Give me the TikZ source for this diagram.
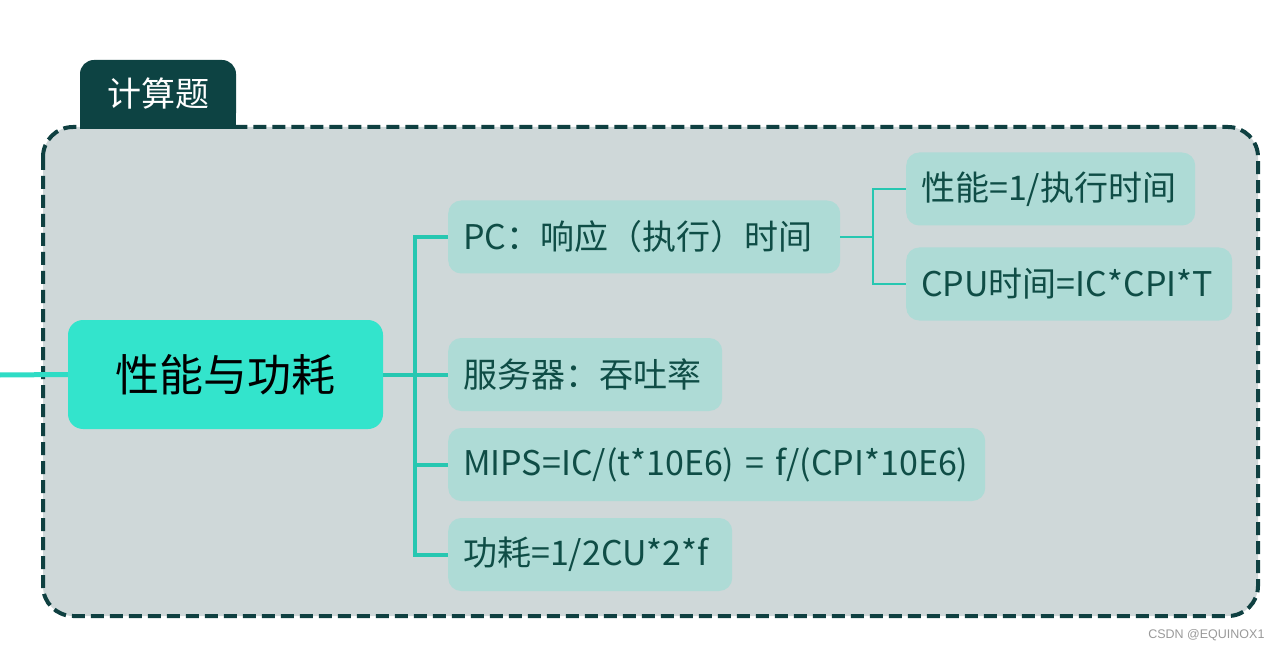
\documentclass[tikz,border=0pt]{standalone}
\usepackage{fontspec}
\setmainfont{Noto Sans CJK SC}
\newfontfamily\wmfont{Liberation Sans}
\usetikzlibrary{positioning}
\definecolor{borderc}{HTML}{0F4041}
\definecolor{boxfill}{HTML}{CFD8D9}
\definecolor{tabc}{HTML}{0D4343}
\definecolor{mainc}{HTML}{33E4CC}
\definecolor{childc}{HTML}{AEDBD6}
\definecolor{childtext}{HTML}{0F4D46}
\definecolor{linkc}{HTML}{27C7B1}
\definecolor{leftc}{HTML}{2EDCC5}
\tikzset{
  mainbox/.style={fill=mainc, rounded corners=15pt, minimum width=315pt, minimum height=109pt,
    font=\fontsize{44}{52}\selectfont, text=black, inner sep=0pt},
  childbox/.style={fill=childc, rounded corners=13pt, minimum height=73pt, inner xsep=15pt, inner ysep=0pt,
    font=\fontsize{34}{40}\selectfont, text=childtext, anchor=west, align=left},
  tabbox/.style={fill=tabc, rounded corners=14pt, minimum width=156pt, minimum height=67pt,
    font=\fontsize{34}{40}\selectfont, text=white, inner sep=0pt},
  link/.style={draw=linkc, line width=4pt},
  sublink/.style={draw=linkc, line width=2.5pt},
}
\begin{document}
\begin{tikzpicture}[x=1pt,y=-1pt]
\useasboundingbox (0,0) rectangle (1282,652);
% outer container
\draw[draw=borderc, fill=boxfill, line width=4pt, dash pattern=on 13pt off 6pt, rounded corners=30pt]
  (43,127) rectangle (1258,616);
% tab
\fill[tabc] (80,95) rectangle (236,129);
\node[tabbox] (tab) at (158,93.5) {计算题};
% left incoming line
\coordinate (inlet) at (0,375);
% main node
\node[mainbox] (main) at (225.5,374.5) {性能与功耗};
\draw[draw=leftc, line width=5pt] (inlet) -- (main.west);
% children
\node[childbox, text width=362pt] (pc) at (448,237) {PC：响应（执行）时间};
\node[childbox, text width=244pt] (srv) at (448,374.5) {服务器：吞吐率};
\node[childbox, text width=507pt] (mips) at (448,464.5) {MIPS=IC/(t*10E6) = f/(CPI*10E6)};
\node[childbox, text width=254pt] (pw) at (448,554.5) {功耗=1/2CU*2*f};
\node[childbox, text width=259pt] (perf) at (906,189) {性能=1/执行时间};
\node[childbox, text width=296pt] (cpu) at (906,284) {CPU时间=IC*CPI*T};
% connectors
\coordinate (trunk) at (415,374.5);
\draw[link] (main.east) -- (trunk);
\draw[link] (trunk) |- (pc.west);
\draw[link] (trunk) -- (srv.west);
\draw[link] (trunk) |- (mips.west);
\draw[link] (trunk) |- (pw.west);
\coordinate (subtrunk) at (873,237);
\draw[sublink] (pc.east) -- (subtrunk);
\draw[sublink] (subtrunk) |- (perf.west);
\draw[sublink] (subtrunk) |- (cpu.west);
% watermark
\node[anchor=east, font=\wmfont\fontsize{12.5}{15}\selectfont, text=black!40] (wm) at (1268,635) {CSDN @EQUINOX1};
\end{tikzpicture}
\end{document}
